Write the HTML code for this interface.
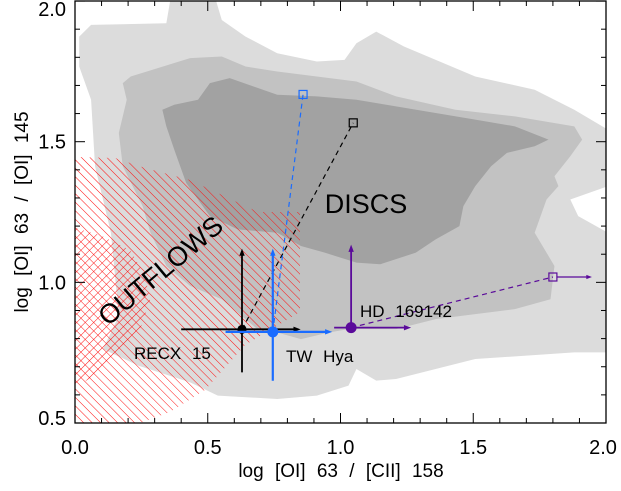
<!DOCTYPE html>
<html><head><meta charset="utf-8"><style>
html,body{margin:0;padding:0;background:#fff;}
svg text{font-family:"Liberation Sans",sans-serif;}
</style></head><body>
<svg id="chart" width="621" height="486" viewBox="0 0 621 486" xmlns="http://www.w3.org/2000/svg">
<defs>
<clipPath id="plotclip"><rect x="75" y="1" width="531" height="422"/></clipPath>
<pattern id="hatchA" patternUnits="userSpaceOnUse" width="6" height="6" patternTransform="rotate(-45)">
<line x1="0" y1="0" x2="0" y2="6" stroke="#ff1010" stroke-width="1"/></pattern>
<pattern id="hatchB" patternUnits="userSpaceOnUse" width="6" height="6" patternTransform="rotate(45)">
<line x1="0" y1="0" x2="0" y2="6" stroke="#ff1010" stroke-width="1"/></pattern>
</defs>
<g clip-path="url(#plotclip)">
<g transform="scale(0.39604,0.33245)">
<path fill="#dcdcdc" d="M200,110 L230,75 L420,70 L430,0 L545,0 L560,60 L620,110 L700,160 L800,185 L870,180 L900,130 L950,95 L1020,140 L1200,230 L1350,270 L1450,330 L1535,390 L1535,560 L1440,600 L1460,650 L1535,700 L1535,1060 L1450,1060 L1200,1080 L1000,1140 L950,1145 L900,1110 L880,1160 L800,1190 L700,1200 L550,1190 L480,1150 L350,1100 L260,1050 L300,950 L280,700 L240,500 L230,300 L200,200 Z"/>
<path fill="#c2c2c2" d="M310,250 L330,230 L480,175 L560,170 L620,200 L700,215 L800,230 L900,245 L1000,290 L1150,330 L1300,350 L1450,380 L1470,420 L1440,470 L1400,530 L1410,560 L1380,600 L1350,700 L1400,800 L1390,900 L1300,930 L1200,945 L1100,960 L1000,990 L880,990 L830,1000 L760,1020 L700,1000 L650,990 L560,900 L480,860 L420,800 L380,700 L360,620 L310,500 L300,400 L320,300 Z"/>
<path fill="#a2a2a2" d="M410,330 L440,315 L500,300 L530,250 L580,235 L700,285 L800,290 L900,300 L1000,320 L1100,340 L1200,360 L1300,380 L1385,420 L1350,440 L1280,460 L1240,500 L1200,560 L1170,620 L1160,680 L1100,720 L1050,760 L960,795 L900,790 L820,760 L760,740 L700,700 L600,690 L530,650 L470,550 L440,450 L420,380 Z"/>
</g>
<path fill="url(#hatchA)" d="M75,157 L115,158 L145,168 L190,180 L258,212 L300,212 L300,312 L245,345 L205,390 L170,412 L140,423 L75,423 Z"/>
<path fill="url(#hatchB)" d="M75,228 L100,235 L130,250 L145,275 L150,300 L140,330 L120,355 L95,375 L75,388 Z"/>
</g>
<g id="axes"></g>
<g id="marks"></g>
<text x="366" y="213" font-size="27" text-anchor="middle">DISCS</text>
<text x="160" y="280" font-size="27" text-anchor="middle" transform="rotate(-40 160 270)">OUTFLOWS</text>
<text x="134" y="359" font-size="17" word-spacing="6">RECX 15</text>
<text x="286" y="362" font-size="17" word-spacing="6">TW Hya</text>
<text x="360" y="317" font-size="17" word-spacing="6">HD 169142</text>
<text x="341" y="477" font-size="19" text-anchor="middle" word-spacing="6">log [OI] 63 / [CII] 158</text>
<text x="22" y="212" font-size="19" text-anchor="middle" word-spacing="6" transform="rotate(-90 22 212)" dy="6">log [OI] 63 / [OI] 145</text>
<rect x="75" y="1" width="531" height="422" fill="none" stroke="#000" stroke-width="1.3"/>
<script>
const xTicks=[0.0,0.5,1.0,1.5,2.0];
const yTicks=[0.5,1.0,1.5,2.0];
const xTickLabels=["0.0","0.5","1.0","1.5","2.0"];
const yTickLabels=["0.5","1.0","1.5","2.0"];
const sources=["RECX 15","TW Hya","HD 169142"];
const colors=["#000000","#1a6cff","#5a0a9a"];
const ptX=[0.629,0.745,1.040];
const ptY=[0.833,0.824,0.839];
const xErrLo=[0.40,0.567,0.976];
const xErrHi=[0.85,0.969,1.266];
const yErrLo=[0.68,0.65,0.839];
const yErrHi=[1.12,1.12,1.134];
const sqX=[1.048,0.859,1.80];
const sqY=[1.567,1.668,1.019];
const sqArrowX=[null,null,1.947];
function X(v){return 75+v*265.5;}
function Y(v){return 423-(v-0.5)*281.3;}
const NS="http://www.w3.org/2000/svg";
function mk(tag,attrs,parent){const e=document.createElementNS(NS,tag);for(const k in attrs)e.setAttribute(k,attrs[k]);parent.appendChild(e);return e;}
const ax=document.getElementById('axes');
for(let i=0;i<=20;i++){const v=i/10;const maj=i%5===0;const L=maj?10:5;
 let t=mk('line',{x1:X(v),x2:X(v),y1:423,y2:423-L,stroke:'#000','stroke-width':1},ax);
 
 
 let t2=mk('line',{x1:X(v),x2:X(v),y1:1,y2:1+L,stroke:'#000','stroke-width':1},ax);
 
 }
for(let i=5;i<=20;i++){const v=i/10;const maj=i%5===0;const L=maj?10:5;
 let t=mk('line',{x1:75,x2:75+L,y1:Y(v),y2:Y(v),stroke:'#000','stroke-width':1},ax);
 
 
 let t2=mk('line',{x1:606,x2:606-L,y1:Y(v),y2:Y(v),stroke:'#000','stroke-width':1},ax);
 
 }
xTicks.forEach((v,i)=>{let t=mk('text',{x:Math.min(X(v),603),y:454,'font-size':20,'text-anchor':'middle'},ax);t.textContent=xTickLabels[i];
 
 });
yTicks.forEach((v,i)=>{let yy=Math.min(Math.max(Y(v)+7,16),425);let t=mk('text',{x:66,y:yy,'font-size':20,'text-anchor':'end'},ax);t.textContent=yTickLabels[i];
 
 });
const mg=document.getElementById('marks');
function arrowHead(x,y,dir,c,s,g){let p;
 if(dir==='up')p=`${x-s*0.6},${y+s*1.6} ${x+s*0.6},${y+s*1.6} ${x},${y}`;
 else p=`${x-s*1.6},${y-s*0.6} ${x-s*1.6},${y+s*0.6} ${x},${y}`;
 const a=mk('polygon',{points:p,fill:c},g);
 
 }
sources.forEach((s,i)=>{
 const c=colors[i];
 const g=mk('g',{},mg);
 
 
 const sw=i===1?2.2:1.8;
 let d=mk('line',{x1:X(ptX[i]),y1:Y(ptY[i]),x2:X(sqX[i]),y2:Y(sqY[i]),stroke:c,'stroke-width':1.2,'stroke-dasharray':'5,4'},g);
 
 
 let q=mk('rect',{x:X(sqX[i])-4,y:Y(sqY[i])-4,width:8,height:8,fill:'none',stroke:c,'stroke-width':1.2},g);
 
 
 if(sqArrowX[i]!==null){
  let l=mk('line',{x1:X(sqX[i])+4,y1:Y(sqY[i]),x2:X(sqArrowX[i])-5,y2:Y(sqY[i]),stroke:c,'stroke-width':1.2},g);
  
  
  arrowHead(X(sqArrowX[i]),Y(sqY[i]),'right',c,3.5,g);}
 let h=mk('line',{x1:X(xErrLo[i]),y1:Y(ptY[i]),x2:X(xErrHi[i])-6,y2:Y(ptY[i]),stroke:c,'stroke-width':sw},g);
 
 
 arrowHead(X(xErrHi[i]),Y(ptY[i]),'right',c,4.5,g);
 let v=mk('line',{x1:X(ptX[i]),y1:Y(yErrLo[i]),x2:X(ptX[i]),y2:Y(yErrHi[i])+6,stroke:c,'stroke-width':sw},g);
 
 
 arrowHead(X(ptX[i]),Y(yErrHi[i]),'up',c,4.5,g);
 let p=mk('circle',{cx:X(ptX[i]),cy:Y(ptY[i]),r:i===0?4.5:5.5,fill:c},g);
 
 
});
</script>
</svg>
</body></html>
